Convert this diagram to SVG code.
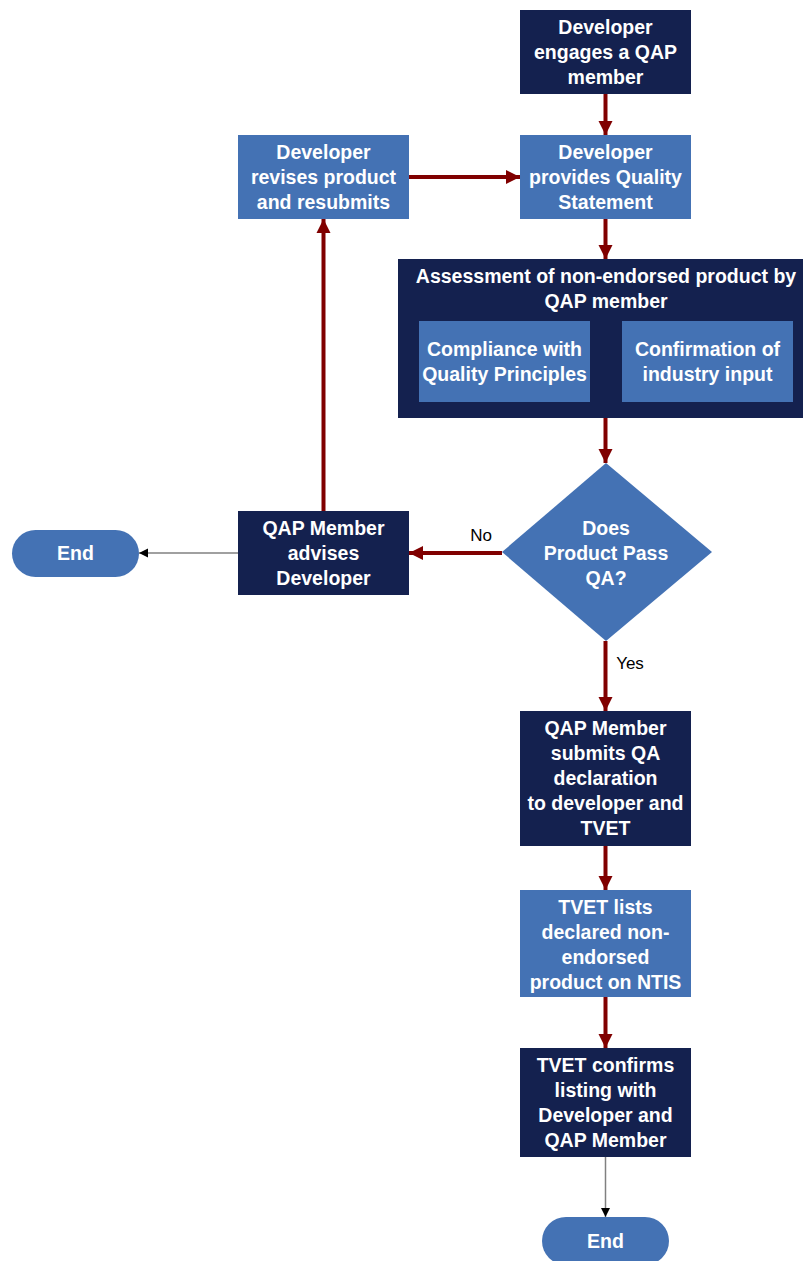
<svg xmlns="http://www.w3.org/2000/svg" width="803" height="1261" viewBox="0 0 803 1261">
<style>
.dark{fill:#14214f}
.light{fill:#4472b4}
.t{font-family:"Liberation Sans",Arial,sans-serif;font-weight:bold;font-size:19.5px;fill:#ffffff;text-anchor:middle}
.lbl{font-family:"Liberation Sans",Arial,sans-serif;font-size:17px;fill:#000000;text-anchor:middle}
.red{stroke:#800000;stroke-width:4;fill:none}
.gray{stroke:#808080;stroke-width:1.5;fill:none}
</style>
<defs>
<marker id="ar" markerUnits="userSpaceOnUse" markerWidth="15" markerHeight="15" refX="14" refY="7.5" orient="auto" viewBox="0 0 15 15">
<path d="M0,0.5 L14,7.5 L0,14.5 z" fill="#800000"/>
</marker>
<marker id="ab" markerUnits="userSpaceOnUse" markerWidth="10" markerHeight="10" refX="9" refY="5" orient="auto" viewBox="0 0 10 10">
<path d="M0,0.5 L9,5 L0,9.5 z" fill="#000000"/>
</marker>
</defs>
<g id="connectors">
<line class="red" x1="605.5" y1="94" x2="605.5" y2="135" marker-end="url(#ar)"/>
<line class="red" x1="409" y1="177" x2="520" y2="177" marker-end="url(#ar)"/>
<line class="red" x1="605.5" y1="219" x2="605.5" y2="259" marker-end="url(#ar)"/>
<line class="red" x1="605.5" y1="418" x2="605.5" y2="463" marker-end="url(#ar)"/>
<line class="red" x1="502" y1="553" x2="409" y2="553" marker-end="url(#ar)"/>
<line class="red" x1="323.5" y1="511" x2="323.5" y2="219" marker-end="url(#ar)"/>
<line class="gray" x1="238" y1="553" x2="139" y2="553" marker-end="url(#ab)"/>
<line class="red" x1="605.5" y1="641" x2="605.5" y2="711" marker-end="url(#ar)"/>
<line class="red" x1="605.5" y1="846" x2="605.5" y2="890" marker-end="url(#ar)"/>
<line class="red" x1="605.5" y1="997" x2="605.5" y2="1048" marker-end="url(#ar)"/>
<line class="gray" x1="605.5" y1="1157" x2="605.5" y2="1217" marker-end="url(#ab)"/>
<text class="lbl" x="481" y="541">No</text>
<text class="lbl" x="630" y="669">Yes</text>
</g>
<g id="n1">
<rect class="dark" x="520" y="10" width="171" height="84"/>
<text class="t" x="605.5" y="34">Developer</text>
<text class="t" x="605.5" y="59">engages a QAP</text>
<text class="t" x="605.5" y="84">member</text>
</g>
<g id="n2">
<rect class="light" x="238" y="135" width="171" height="84"/>
<text class="t" x="323.5" y="159">Developer</text>
<text class="t" x="323.5" y="184">revises product</text>
<text class="t" x="323.5" y="209">and resubmits</text>
</g>
<g id="n3">
<rect class="light" x="520" y="135" width="171" height="84"/>
<text class="t" x="605.5" y="159">Developer</text>
<text class="t" x="605.5" y="184">provides Quality</text>
<text class="t" x="605.5" y="209">Statement</text>
</g>
<g id="n4">
<rect class="dark" x="398" y="259" width="405" height="159"/>
<text class="t" x="606" y="283">Assessment of non-endorsed product by</text>
<text class="t" x="606" y="308">QAP member</text>
</g>
<g id="n4a">
<rect class="light" x="419" y="321" width="171" height="81"/>
<text class="t" x="504.5" y="356">Compliance with</text>
<text class="t" x="504.5" y="381">Quality Principles</text>
</g>
<g id="n4b">
<rect class="light" x="622" y="321" width="171" height="81"/>
<text class="t" x="707.5" y="356">Confirmation of</text>
<text class="t" x="707.5" y="381">industry input</text>
</g>
<g id="n5">
<polygon class="light" points="606,463 712,552 606,641 502,552"/>
<text class="t" x="606" y="535">Does</text>
<text class="t" x="606" y="560">Product Pass</text>
<text class="t" x="606" y="585">QA?</text>
</g>
<g id="n6">
<rect class="dark" x="238" y="511" width="171" height="84"/>
<text class="t" x="323.5" y="535">QAP Member</text>
<text class="t" x="323.5" y="560">advises</text>
<text class="t" x="323.5" y="585">Developer</text>
</g>
<g id="n7">
<rect class="light" x="12" y="530" width="127" height="47" rx="23.5" ry="23.5"/>
<text class="t" x="75.5" y="560">End</text>
</g>
<g id="n8">
<rect class="dark" x="520" y="711" width="171" height="135"/>
<text class="t" x="605.5" y="735">QAP Member</text>
<text class="t" x="605.5" y="760">submits QA</text>
<text class="t" x="605.5" y="785">declaration</text>
<text class="t" x="605.5" y="810">to developer and</text>
<text class="t" x="605.5" y="835">TVET</text>
</g>
<g id="n9">
<rect class="light" x="520" y="890" width="171" height="107"/>
<text class="t" x="605.5" y="914">TVET lists</text>
<text class="t" x="605.5" y="939">declared non-</text>
<text class="t" x="605.5" y="964">endorsed</text>
<text class="t" x="605.5" y="989">product on NTIS</text>
</g>
<g id="n10">
<rect class="dark" x="520" y="1048" width="171" height="109"/>
<text class="t" x="605.5" y="1072">TVET confirms</text>
<text class="t" x="605.5" y="1097">listing with</text>
<text class="t" x="605.5" y="1122">Developer and</text>
<text class="t" x="605.5" y="1147">QAP Member</text>
</g>
<g id="n11">
<rect class="light" x="542" y="1217" width="127" height="48" rx="24" ry="24"/>
<text class="t" x="605.5" y="1248">End</text>
</g>
</svg>
